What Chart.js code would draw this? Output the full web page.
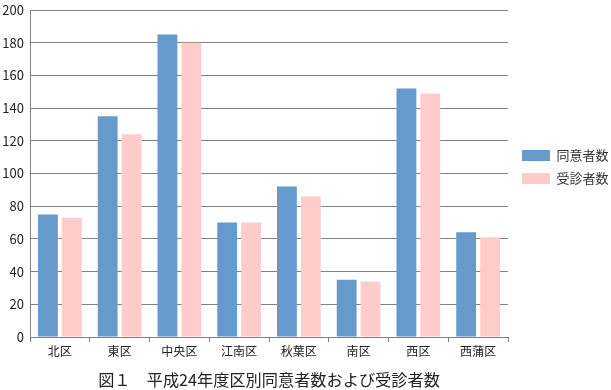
<!DOCTYPE html>
<html><head><meta charset="utf-8">
<script src="https://cdn.jsdelivr.net/npm/chart.js@4/dist/chart.umd.min.js"></script>
<style>html,body{margin:0;padding:0;background:#fff}#wrap{width:611px;height:390px}</style>
</head><body><div id="wrap"><canvas id="c" width="611" height="390"></canvas></div>
<script>
const categories = ["北区","東区","中央区","江南区","秋葉区","南区","西区","西蒲区"];
const agreed = [75,135,185,70,92,35,152,64];
const examined = [73,124,180,70,86,34,149,61];
const yTicks = [0,20,40,60,80,100,120,140,160,180,200];
const seriesNames = ["同意者数","受診者数"];
const chartTitle = "図１　平成24年度区別同意者数および受診者数";
const FONT = "'Noto Sans CJK JP', 'Noto Sans', sans-serif";
new Chart(document.getElementById('c'), {
  type: 'bar',
  data: {
    labels: categories,
    datasets: [
      {label: seriesNames[0], data: agreed, backgroundColor: '#6699CC', categoryPercentage: 0.8, barPercentage: 0.83},
      {label: seriesNames[1], data: examined, backgroundColor: '#FFCCCC', categoryPercentage: 0.8, barPercentage: 0.83}
    ]
  },
  options: {
    responsive: false, animation: false,
    layout: {padding: {top: 0, right: 0, left: 0, bottom: 0}},
    plugins: {
      legend: {
        position: 'right', align: 'start', maxWidth: 99,
        title: {display: true, text: ' ', font: {size: 1, lineHeight: 1}, padding: {top: 138, bottom: 0}},
        labels: {boxWidth: 28, boxHeight: 11, font: {family: FONT, size: 13}, color: '#333', padding: 10}
      },
      tooltip: {enabled: false},
      title: {display: false}
    },
    scales: {
      x: {
        grid: {drawOnChartArea: false, drawTicks: true, tickLength: 5, color: '#808080', offset: true},
        border: {color: '#808080'},
        ticks: {font: {family: FONT, size: 12}, color: '#222', padding: 2},
        title: {display: true, text: chartTitle, font: {family: FONT, size: 16.2}, color: '#222', padding: {top: 8, bottom: 0}},
        afterFit: s => { s.height = 53; }
      },
      y: {
        min: 0, max: 200,
        afterBuildTicks: s => { s.ticks = yTicks.map(v => ({value: v})); },
        grid: {drawTicks: false, color: '#808080'},
        border: {color: '#808080'},
        ticks: {font: {family: FONT, size: 13}, color: '#222', padding: 6},
        afterFit: s => { s.width = 30; s.paddingTop = 10; }
      },
      gap: {
        type: 'linear', position: 'right', display: true,
        grid: {display: false, drawTicks: false}, border: {display: false},
        ticks: {display: false},
        afterFit: s => { s.width = 4; s.paddingTop = 0; }
      }
    }
  }
});
</script></body></html>
